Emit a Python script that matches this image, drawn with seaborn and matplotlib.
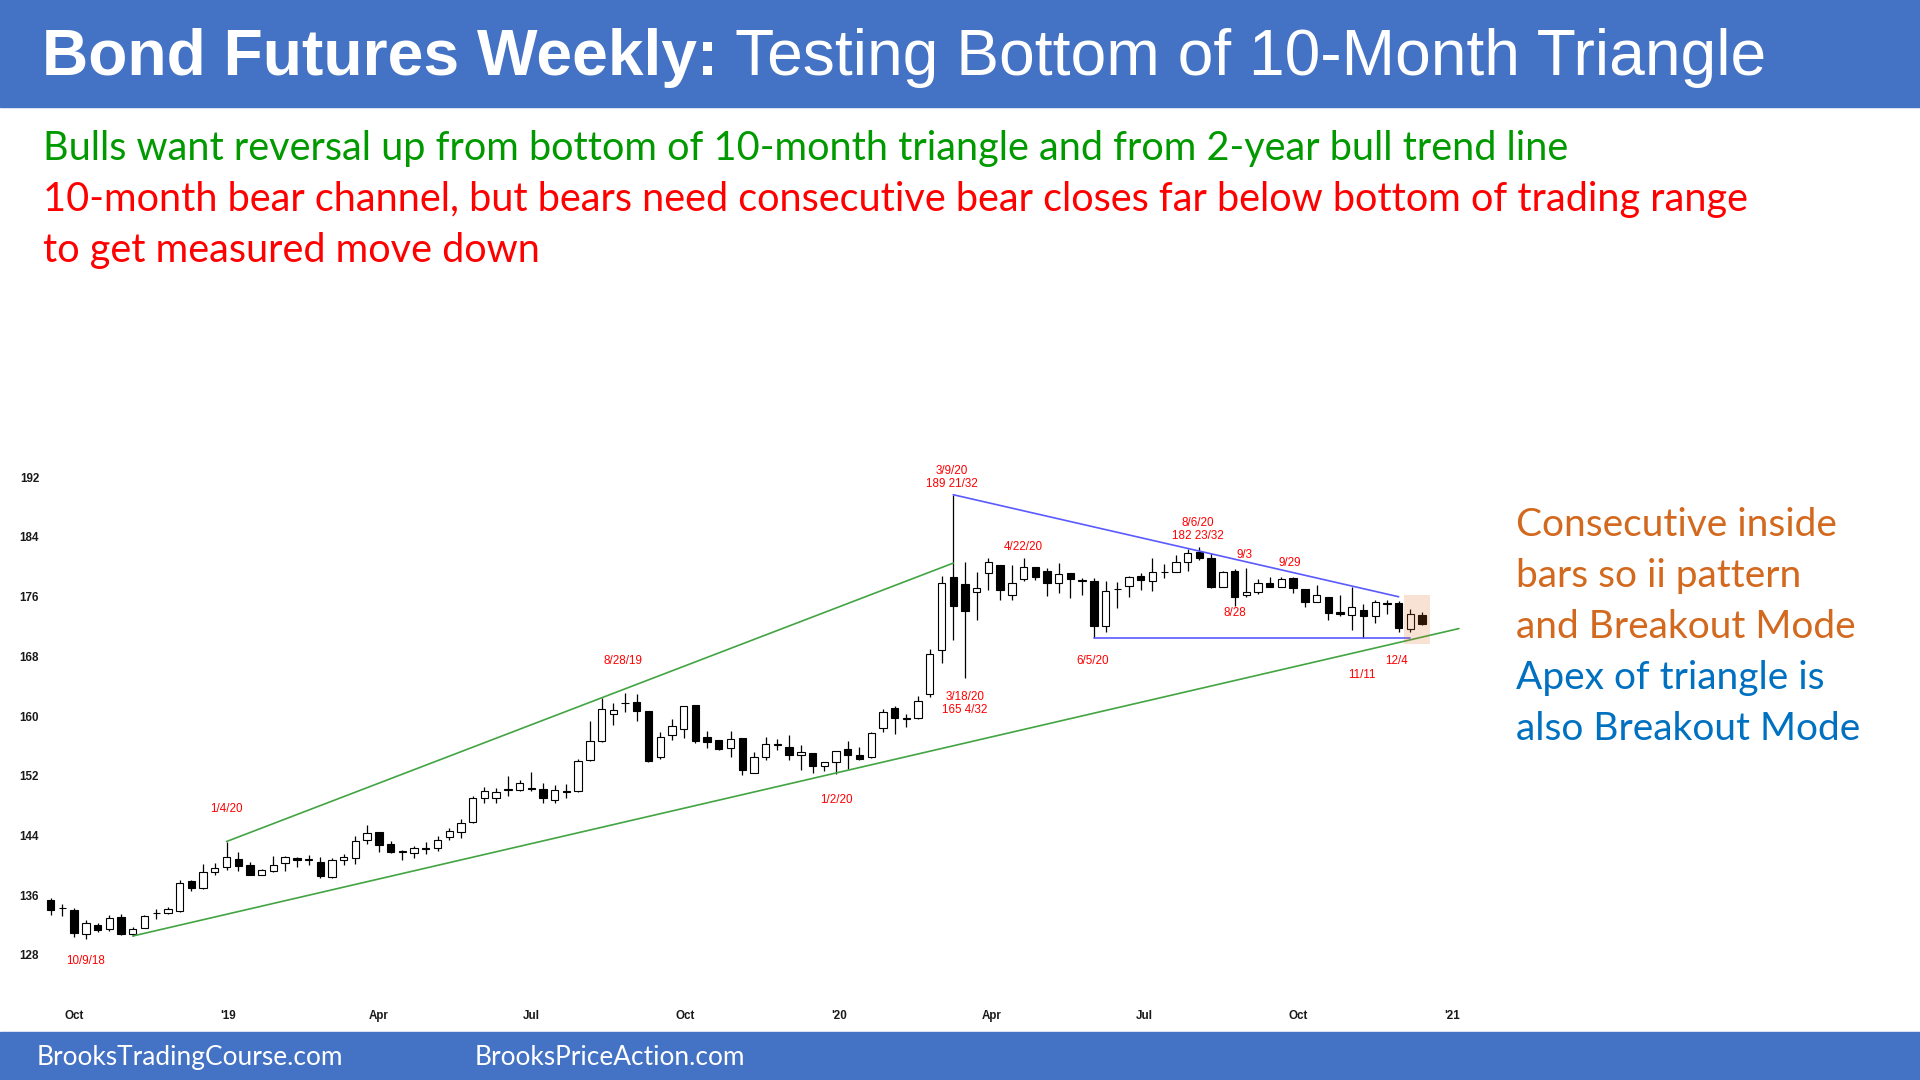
import matplotlib
matplotlib.use("Agg")
import matplotlib.pyplot as plt
import matplotlib.dates as mdates
from matplotlib.patches import Rectangle
import numpy as np
import pandas as pd
import seaborn as sns

sns.set_theme(style="white")
plt.rcParams["font.family"] = ["Liberation Sans", "DejaVu Sans"]

W, H = 1920, 1080

# weekly bars, Monday dates
first_week = "2018-09-17"
opens = [135.31, 134.24, 133.97, 130.85, 132.01, 131.48, 133.08, 130.85, 131.65, 133.57,
         133.66, 133.88, 137.89, 136.91, 139.10, 139.81, 140.88, 139.99, 138.78, 139.19,
         140.30, 140.97, 140.75, 140.48, 138.47, 140.75, 141.01, 143.46, 144.44, 142.93,
         141.81, 141.65, 142.39, 142.39, 143.84, 144.45, 145.84, 149.08, 148.98, 150.11,
         150.11, 150.40, 150.26, 148.82, 150.00, 149.95, 154.07, 156.69, 160.34, 161.70,
         161.90, 160.75, 154.47, 157.51, 158.33, 161.47, 157.15, 156.74, 155.71, 157.05,
         152.37, 154.58, 156.12, 155.86, 154.73, 155.09, 153.29, 153.81, 155.61, 154.73,
         154.58, 158.43, 161.11, 159.62, 159.72, 162.96, 168.88, 178.60, 177.73, 176.60,
         179.17, 180.20, 176.29, 178.32, 180.03, 179.49, 177.78, 179.13, 178.14, 178.10,
         172.09, 176.98, 177.43, 178.77, 178.10, 179.26, 179.35, 180.70, 182.05, 181.15,
         177.34, 179.44, 176.21, 176.57, 177.87, 177.25, 178.46, 177.02, 175.23, 175.99,
         173.97, 173.52, 174.20, 173.39, 175.18, 175.09, 171.73, 173.61]
highs = [135.58, 134.86, 134.33, 132.63, 132.32, 133.35, 133.44, 131.74, 133.30, 134.10,
         134.46, 137.98, 138.07, 140.25, 140.34, 143.20, 141.81, 140.43, 139.54, 141.32,
         141.24, 141.10, 141.37, 141.10, 140.97, 141.55, 143.91, 145.47, 144.44, 143.33,
         142.13, 142.57, 143.17, 143.94, 144.97, 146.25, 149.34, 150.47, 150.37, 152.01,
         151.50, 152.57, 151.08, 150.73, 150.88, 154.22, 159.36, 162.45, 161.70, 163.06,
         162.90, 160.75, 157.82, 159.57, 161.37, 161.47, 158.02, 156.74, 158.02, 157.05,
         155.25, 157.25, 156.89, 157.51, 156.12, 155.09, 153.91, 155.35, 156.64, 155.86,
         157.92, 161.01, 161.37, 160.34, 162.65, 168.98, 178.75, 189.66, 180.71, 179.37,
         181.17, 180.20, 180.20, 181.15, 180.03, 179.80, 180.56, 179.13, 178.46, 178.46,
         178.10, 178.01, 178.77, 179.22, 181.15, 180.34, 181.60, 182.36, 182.72, 181.82,
         179.49, 179.71, 179.80, 178.32, 178.68, 178.68, 178.68, 177.02, 177.56, 175.99,
         176.21, 177.34, 175.00, 175.54, 175.54, 175.45, 174.33, 173.97]
lows = [133.30, 133.21, 130.45, 130.18, 131.12, 131.21, 130.67, 130.55, 131.57, 132.77,
        133.44, 133.75, 136.56, 136.78, 138.70, 139.45, 139.23, 138.65, 138.65, 139.10,
        139.23, 139.77, 140.12, 138.34, 138.34, 139.99, 140.21, 142.88, 141.77, 141.68,
        140.79, 141.01, 141.47, 141.88, 143.42, 143.68, 145.74, 148.41, 148.31, 149.34,
        149.95, 149.95, 148.31, 148.41, 149.08, 149.85, 153.96, 156.53, 158.82, 160.50,
        159.40, 153.81, 154.32, 156.79, 157.05, 156.38, 155.76, 155.45, 154.47, 152.11,
        152.37, 154.17, 155.50, 154.17, 152.78, 152.42, 152.63, 152.27, 152.94, 154.17,
        154.42, 157.82, 157.56, 158.59, 159.57, 162.55, 167.08, 170.16, 165.13, 172.94,
        176.96, 175.57, 175.52, 178.10, 178.23, 176.08, 176.44, 175.86, 176.21, 170.52,
        171.28, 174.51, 175.99, 176.89, 176.75, 178.46, 179.26, 179.49, 180.92, 177.11,
        177.25, 174.74, 175.99, 176.35, 177.25, 177.25, 176.44, 174.65, 175.23, 172.94,
        173.43, 171.51, 170.52, 172.49, 173.66, 171.28, 171.28, 172.18]
closes = [133.97, 134.24, 130.99, 132.32, 131.39, 132.99, 130.76, 131.48, 133.21, 133.57,
          134.10, 137.67, 137.00, 139.10, 139.68, 141.15, 139.90, 138.78, 139.32, 140.12,
          141.10, 140.79, 140.75, 138.61, 140.75, 141.10, 143.33, 144.35, 142.71, 141.77,
          141.81, 142.32, 142.14, 143.42, 144.55, 145.74, 149.08, 149.95, 149.85, 150.11,
          150.98, 150.30, 149.08, 150.11, 149.90, 153.96, 156.69, 160.90, 160.88, 161.70,
          160.70, 153.96, 157.25, 158.69, 161.37, 156.64, 156.53, 155.60, 156.89, 152.78,
          154.58, 156.22, 156.12, 154.73, 155.20, 153.29, 153.91, 155.35, 154.73, 154.32,
          157.77, 160.60, 159.72, 159.62, 162.04, 168.31, 177.83, 174.74, 174.02, 177.11,
          180.66, 176.96, 177.88, 179.94, 178.68, 177.78, 179.00, 178.32, 178.14, 172.09,
          176.75, 176.98, 178.68, 178.23, 179.26, 179.26, 180.61, 181.82, 181.15, 177.34,
          179.26, 175.99, 176.57, 177.87, 177.25, 178.32, 177.11, 175.23, 176.21, 173.84,
          173.66, 174.65, 173.43, 175.32, 174.96, 171.82, 173.66, 172.31]

price_ticks = [128, 136, 144, 152, 160, 168, 176, 184, 192]
month_ticks = ["2018-10-01", "2019-01-01", "2019-04-01", "2019-07-01", "2019-10-01",
               "2020-01-01", "2020-04-01", "2020-07-01", "2020-10-01", "2021-01-01"]
month_labels = ["Oct", "'19", "Apr", "Jul", "Oct", "'20", "Apr", "Jul", "Oct", "'21"]

# trend lines (end points)
green_upper_x = ["2018-12-31", "2020-03-09"]
green_upper_y = [143.20, 180.50]
green_lower_x = ["2018-11-05", "2021-01-05"]
green_lower_y = [130.54, 171.73]
blue_upper_x = ["2020-03-09", "2020-11-30"]
blue_upper_y = [189.66, 175.99]
blue_lower_x = ["2020-06-01", "2020-12-07"]
blue_lower_y = [170.52, 170.52]

# ii pattern highlight
box_x = ["2020-12-03", "2020-12-19"]
box_y = [169.7, 176.2]

bar_notes = [
    ("10/9/18", "2018-10-08", 127.2),
    ("1/4/20", "2018-12-31", 147.5),
    ("8/28/19", "2019-08-25", 167.4),
    ("3/9/20\n189 21/32", "2020-03-08", 192.0),
    ("3/18/20\n165 4/32", "2020-03-16", 161.7),
    ("1/2/20", "2019-12-30", 148.8),
    ("4/22/20", "2020-04-20", 182.6),
    ("6/5/20", "2020-05-31", 167.4),
    ("8/6/20\n182 23/32", "2020-08-02", 185.0),
    ("9/3", "2020-08-30", 181.6),
    ("9/29", "2020-09-26", 180.5),
    ("8/28", "2020-08-24", 173.75),
    ("11/11", "2020-11-08", 165.55),
    ("12/4", "2020-11-29", 167.4),
]

top_lines = [
    ("Bulls want reversal up from bottom of 10-month triangle and from 2-year bull trend line", "#009A00"),
    ("10-month bear channel, but bears need consecutive bear closes far below bottom of trading range", "#FF0000"),
    ("to get measured move down", "#FF0000"),
]
side_lines = [
    ("Consecutive inside", "#D2691E"),
    ("bars so ii pattern", "#D2691E"),
    ("and Breakout Mode", "#D2691E"),
    ("Apex of triangle is", "#0070C0"),
    ("also Breakout Mode", "#0070C0"),
]

BANNER = "#4472C4"

fig = plt.figure(figsize=(W / 100, H / 100), dpi=100)
fig.patch.set_facecolor("white")
renderer = fig.canvas.get_renderer()


def px_text(x, y, s, size, **kw):
    return fig.text(x / W, 1 - y / H, s, fontsize=size, va="baseline", **kw)


def fit_width(t, target):
    w = t.get_window_extent(renderer).width
    t.set_fontsize(t.get_fontsize() * target / w)
    return t.get_fontsize()


# banners
fig.add_artist(Rectangle((0, 1 - 107 / H), 1, 107 / H, transform=fig.transFigure,
                         color=BANNER, zorder=0))
fig.add_artist(Rectangle((0, 0), 1, 48 / H, transform=fig.transFigure,
                         color=BANNER, zorder=0))

# title: bold + regular part
t_bold = px_text(42, 75, "Bond Futures Weekly:", 46, color="white", weight="bold")
t_reg = px_text(0, 75, "Testing Bottom of 10-Month Triangle", 46, color="white")
wb = t_bold.get_window_extent(renderer).width
wr = t_reg.get_window_extent(renderer).width
gap = 0.28 * 46 * 100 / 72
f = 1721 / (wb + gap + wr)
t_bold.set_fontsize(46 * f)
t_reg.set_fontsize(46 * f)
t_reg.set_x((42 + (wb + gap) * f) / W)

# commentary lines
body = []
for i, (s, c) in enumerate(top_lines):
    body.append(px_text(43, 160 + 51 * i, s, 28, color=c, family=["Lato", "DejaVu Sans"]))
size = fit_width(body[1], 1705)
for t in body:
    t.set_fontsize(size)

side = []
for i, (s, c) in enumerate(side_lines):
    side.append(px_text(1516, 536 + 51 * i, s, 28, color=c, family=["Lato", "DejaVu Sans"]))
size = fit_width(side[0], 321)
for t in side:
    t.set_fontsize(size)

foot1 = px_text(37, 1065, "BrooksTradingCourse.com", 18, color="white",
                family=["Lato", "DejaVu Sans"])
size = fit_width(foot1, 305)
px_text(475, 1065, "BrooksPriceAction.com", size, color="white",
        family=["Lato", "DejaVu Sans"])

# chart area
L, R, T, B = 42, 1475, 440, 1000
ax = fig.add_axes([L / W, 1 - B / H, (R - L) / W, (B - T) / H])
ax.set_facecolor("none")

d0 = mdates.date2num(pd.Timestamp(first_week))
xs = d0 + 7 * np.arange(len(opens))
o = np.array(opens)
c = np.array(closes)

ax.vlines(xs, lows, highs, color="black", lw=0.9, zorder=2)
bottoms = np.minimum(o, c)
heights = np.maximum(np.abs(c - o), 0.1)
face = np.where(c < o, "black", "white")
ax.bar(xs, heights, bottom=bottoms, width=4.4, color=face, edgecolor="black",
       linewidth=0.8, zorder=3)


def dnum(lst):
    return mdates.date2num(pd.to_datetime(lst))


for lx, ly, col in [(green_upper_x, green_upper_y, "#43A443"),
                    (green_lower_x, green_lower_y, "#43A443"),
                    (blue_upper_x, blue_upper_y, "#5A5AFF"),
                    (blue_lower_x, blue_lower_y, "#5A5AFF")]:
    sns.lineplot(x=dnum(lx), y=ly, color=col, lw=1.2, ax=ax, zorder=4)

bx = dnum(box_x)
ax.add_patch(Rectangle((bx[0], box_y[0]), bx[1] - bx[0], box_y[1] - box_y[0],
                       facecolor="#D76E28", alpha=0.2, lw=0, zorder=5))

for s, d, p in bar_notes:
    ax.text(dnum([d])[0], p, s, color="#FF0000", fontsize=8.4, ha="center",
            va="center", linespacing=1.15, zorder=6)

ax.set_xlim(d0 - 5.2, d0 + 850.6)
ax.set_ylim(121.97, 196.99)
ax.set_yticks(price_ticks)
ax.set_yticklabels([str(v) for v in price_ticks])
ax.set_xticks(dnum(month_ticks))
ax.set_xticklabels(month_labels)
ax.tick_params(axis="y", length=0, pad=2, labelsize=8.4, labelcolor="#1a1a1a")
ax.tick_params(axis="x", length=0, pad=7, labelsize=8.4, labelcolor="#1a1a1a")
for lab in ax.get_xticklabels() + ax.get_yticklabels():
    lab.set_fontweight("bold")
ax.set_xlabel("")
ax.set_ylabel("")
for sp in ax.spines.values():
    sp.set_visible(False)
ax.grid(False)

fig.savefig("out.png", dpi=100)
